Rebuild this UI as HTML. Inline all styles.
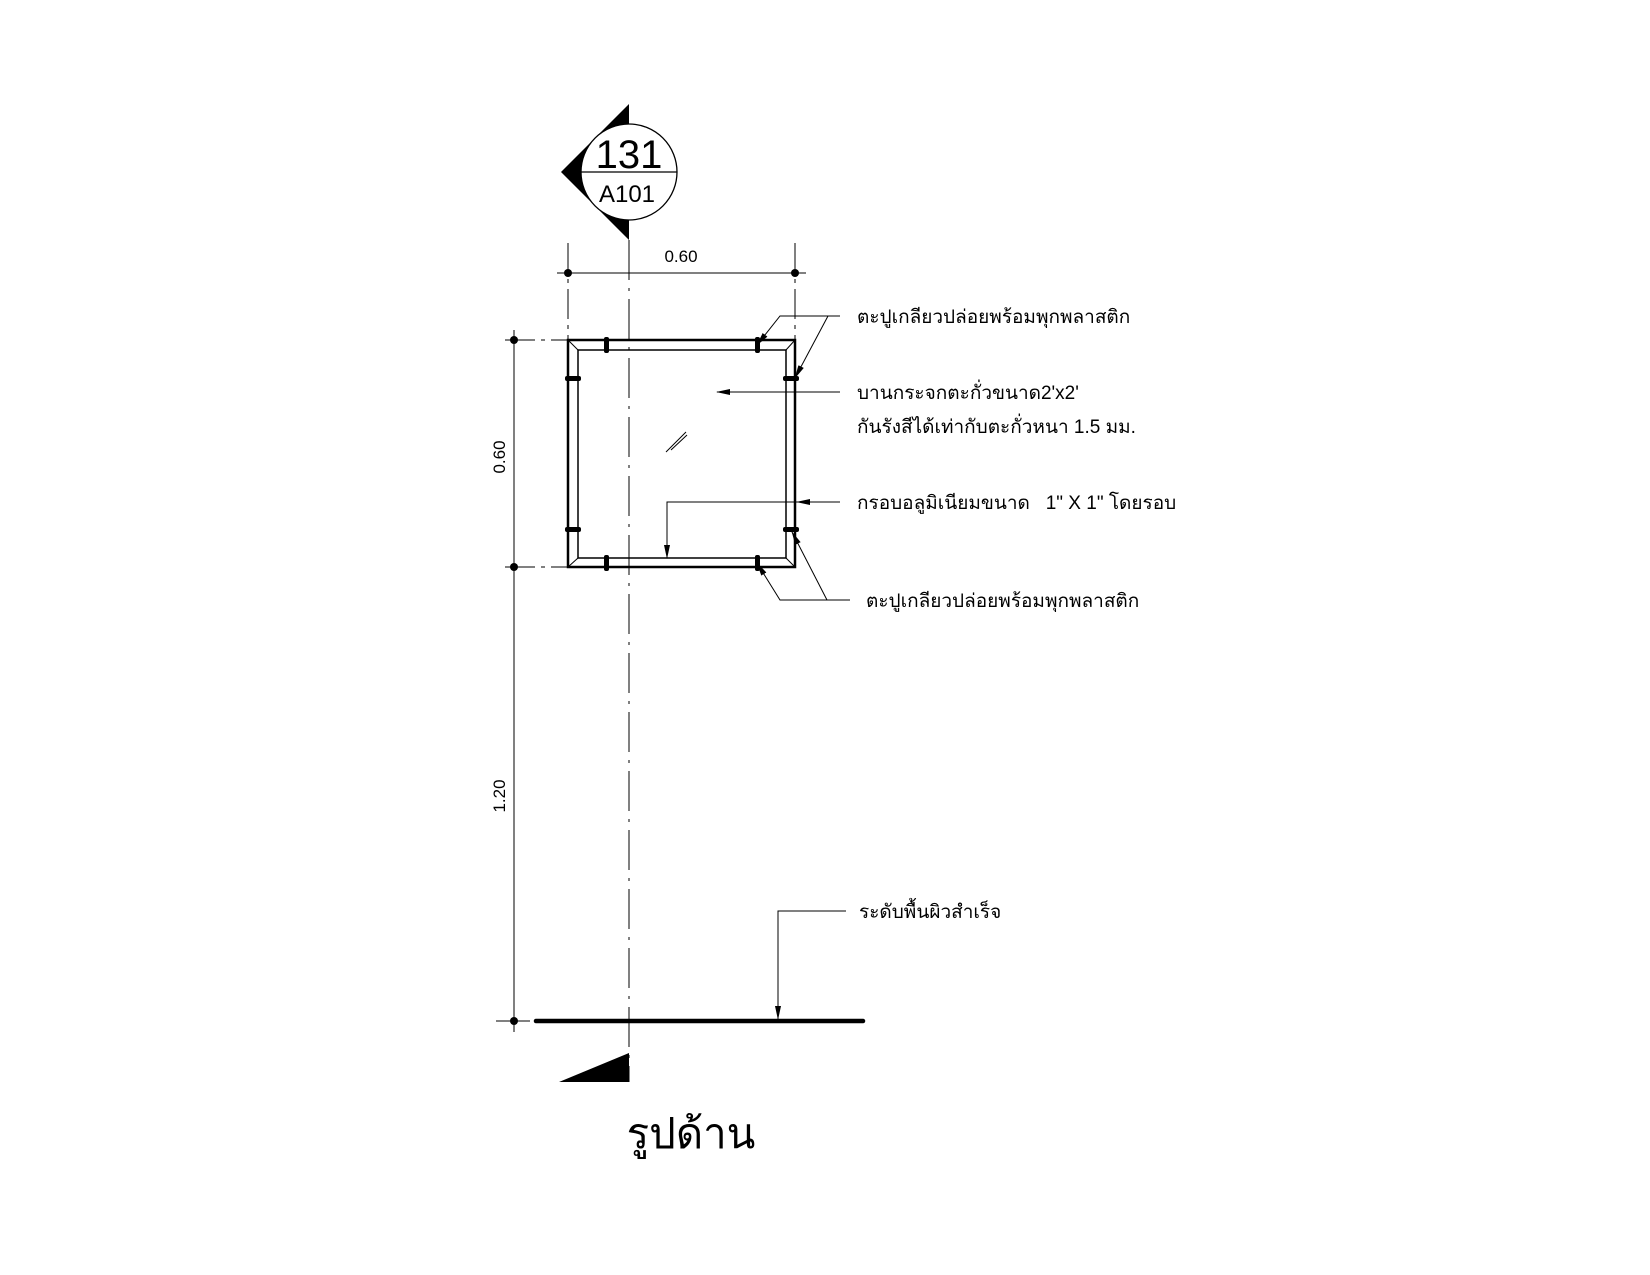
<!DOCTYPE html>
<html><head><meta charset="utf-8"><style>
html,body{margin:0;padding:0;background:#fff;}
svg{display:block;}
text{font-family:"Liberation Sans","Noto Sans CJK SC",sans-serif;fill:#000;}
</style></head><body>
<svg width="1650" height="1275" viewBox="0 0 1650 1275" xmlns="http://www.w3.org/2000/svg">
<defs>
<marker id="ar" markerWidth="14" markerHeight="6" refX="13" refY="3" orient="auto" markerUnits="userSpaceOnUse"><path d="M0,0 L14,3 L0,6 Z" fill="#000"/></marker>
</defs>
<path d="M629,104 L629,240 L561,172 Z" fill="#000"/>
<circle cx="629" cy="172" r="48" fill="#fff" stroke="#000" stroke-width="1.3"/>
<line x1="581" y1="172" x2="677" y2="172" stroke="#000" stroke-width="1.2"/>
<text x="629" y="168" font-size="40" text-anchor="middle">131</text>
<text x="627" y="202" font-size="24" text-anchor="middle">A101</text>
<line x1="629" y1="240" x2="629" y2="1082" stroke="#000" stroke-width="1" stroke-dasharray="40,8,3,8"/>
<line x1="557" y1="273" x2="806" y2="273" stroke="#000" stroke-width="1"/>
<line x1="568" y1="243" x2="568" y2="340" stroke="#000" stroke-width="1" stroke-dasharray="30,6,4,6"/>
<line x1="795" y1="243" x2="795" y2="340" stroke="#000" stroke-width="1" stroke-dasharray="30,6,4,6"/>
<circle cx="568" cy="273" r="4"/><circle cx="795" cy="273" r="4"/>
<text x="681" y="262" font-size="17" text-anchor="middle">0.60</text>
<line x1="514" y1="330" x2="514" y2="1032" stroke="#000" stroke-width="1"/>
<line x1="505" y1="340" x2="568" y2="340" stroke="#000" stroke-width="1" stroke-dasharray="30,6,4,6"/>
<line x1="505" y1="567" x2="568" y2="567" stroke="#000" stroke-width="1" stroke-dasharray="30,6,4,6"/>
<line x1="496" y1="1021" x2="530" y2="1021" stroke="#000" stroke-width="1"/>
<circle cx="514" cy="340" r="4"/><circle cx="514" cy="567" r="4"/><circle cx="514" cy="1021" r="4"/>
<text transform="translate(505,457) rotate(-90)" font-size="17" text-anchor="middle">0.60</text>
<text transform="translate(505,796) rotate(-90)" font-size="17" text-anchor="middle">1.20</text>
<rect x="568" y="340" width="227" height="227" fill="none" stroke="#000" stroke-width="2.5"/>
<rect x="578" y="350" width="208" height="208" fill="none" stroke="#000" stroke-width="1.5"/>
<g stroke="#000" stroke-width="1"><line x1="568" y1="340" x2="578" y2="350"/><line x1="795" y1="340" x2="786" y2="350"/><line x1="568" y1="567" x2="578" y2="558"/><line x1="795" y1="567" x2="786" y2="558"/></g>
<g fill="#000">
<rect x="604" y="337" width="5" height="16" rx="2"/><rect x="755" y="337" width="5" height="16" rx="2"/>
<rect x="604" y="555" width="5" height="16" rx="2"/><rect x="755" y="555" width="5" height="16" rx="2"/>
<rect x="565" y="376" width="16" height="5" rx="2"/><rect x="565" y="527" width="16" height="5" rx="2"/>
<rect x="783" y="376" width="16" height="5" rx="2"/><rect x="783" y="527" width="16" height="5" rx="2"/>
</g>
<g stroke="#000" stroke-width="1"><line x1="666" y1="452" x2="686" y2="432"/><line x1="671" y1="450" x2="687" y2="435"/></g>
<g stroke="#000" stroke-width="1" fill="none">
<polyline points="840,316 780,316 757,345" marker-end="url(#ar)"/>
<line x1="828" y1="316" x2="795" y2="378" marker-end="url(#ar)"/>
<line x1="840" y1="392" x2="717" y2="392" marker-end="url(#ar)"/>
<line x1="840" y1="502" x2="797" y2="502" marker-end="url(#ar)"/>
<polyline points="797,502 667,502 667,558" marker-end="url(#ar)"/>
<polyline points="850,600 780,600 757,563" marker-end="url(#ar)"/>
<line x1="827" y1="600" x2="792" y2="532" marker-end="url(#ar)"/>
<polyline points="846,911 778,911 778,1019" marker-end="url(#ar)"/>
</g>
<text x="857" y="323" font-size="19">ตะปูเกลียวปล่อยพร้อมพุกพลาสติก</text>
<text x="857" y="399" font-size="19">บานกระจกตะกั่วขนาด2'x2'</text>
<text x="857" y="433" font-size="19">กันรังสีได้เท่ากับตะกั่วหนา 1.5 มม.</text>
<text x="857" y="509" font-size="19">กรอบอลูมิเนียมขนาด&#160;&#160;&#160;1" X 1" โดยรอบ</text>
<text x="866" y="607" font-size="19">ตะปูเกลียวปล่อยพร้อมพุกพลาสติก</text>
<text x="859" y="918" font-size="19">ระดับพื้นผิวสำเร็จ</text>
<line x1="536" y1="1021" x2="863" y2="1021" stroke="#000" stroke-width="4.5" stroke-linecap="round"/>
<path d="M629,1053 L629,1082 L559,1082 Z" fill="#000"/>
<text x="691" y="1148" font-size="42" text-anchor="middle">รูปด้าน</text>
</svg>
</body></html>
